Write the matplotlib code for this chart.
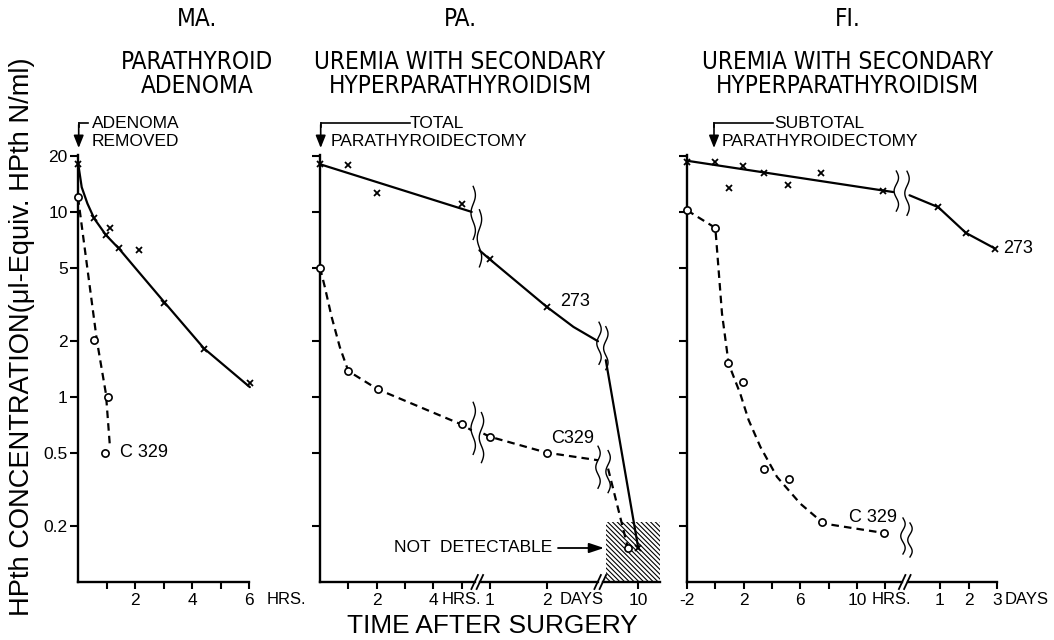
import numpy as np
import matplotlib
matplotlib.use("Agg")
import matplotlib.pyplot as plt
import matplotlib.transforms as mtransforms
from matplotlib import font_manager
from matplotlib.lines import Line2D
from matplotlib.patches import Rectangle
from matplotlib.ticker import NullLocator

plt.rcParams['font.family'] = ['Liberation Sans', 'DejaVu Sans']
plt.rcParams['hatch.linewidth'] = 0.8
plt.rcParams['hatch.color'] = 'black'

# ---------------- data (HPth, ul-Equiv. HPth N/ml) ----------------
# MA. parathyroid adenoma - hours after surgery
ma_273_hrs = [0, 0.57, 0.98, 1.12, 1.45, 2.15, 3.03, 4.42, 6.03]
ma_273_val = [18.2, 9.3, 7.5, 8.2, 6.4, 6.2, 3.2, 1.82, 1.19]
ma_273_fit_hrs = [0, 0.13, 0.33, 0.57, 0.98, 1.45, 2.0, 3.03, 4.42, 6.03]
ma_273_fit_val = [18.5, 13.6, 11.1, 9.2, 7.5, 6.3, 5.0, 3.25, 1.83, 1.13]
ma_c329_hrs = [0, 0.57, 1.06, 0.95]
ma_c329_val = [12.0, 2.04, 1.0, 0.5]
ma_c329_fit_hrs = [0, 0.66, 0.98, 1.12]
ma_c329_fit_val = [12.0, 2.03, 1.04, 0.54]

# PA. uremia, total parathyroidectomy
pa_273_hrs = [0, 1.0, 2.0, 5.0]
pa_273_hrs_val = [18.1, 17.9, 12.6, 11.0]
pa_273_fit_hrs = [0, 5.36]
pa_273_fit_hrs_val = [18.1, 10.0]
pa_273_days = [1.0, 2.0]
pa_273_days_val = [5.55, 3.07]
pa_273_fit_days = [0.82, 1.0, 2.0, 2.47, 2.9]
pa_273_fit_days_val = [6.2, 5.55, 3.07, 2.39, 2.0]
pa_273_late_days = [10.0]
pa_273_late_val = [0.152]
pa_273_fit_late_days = [9.43, 10.0]
pa_273_fit_late_val = [1.58, 0.152]

pa_c329_hrs = [0, 1.0, 2.04, 5.0]
pa_c329_hrs_val = [5.0, 1.38, 1.10, 0.71]
pa_c329_fit_hrs = [0, 0.17, 0.41, 0.70, 1.0, 2.04, 5.0, 5.36]
pa_c329_fit_hrs_val = [5.0, 3.93, 2.71, 1.86, 1.38, 1.10, 0.71, 0.66]
pa_c329_days = [1.0, 2.0]
pa_c329_days_val = [0.61, 0.50]
pa_c329_fit_days = [0.89, 1.0, 2.0, 2.9]
pa_c329_fit_days_val = [0.634, 0.61, 0.50, 0.455]
pa_c329_late_days = [9.82]
pa_c329_late_val = [0.152]
pa_c329_fit_late_days = [9.47, 9.82]
pa_c329_fit_late_val = [0.41, 0.152]

# detection limit region
undetectable_from_day = 9.43
undetectable_limit = 0.21

# FI. uremia, subtotal parathyroidectomy
fi_273_hrs = [-2, 0, 0.94, 1.95, 3.46, 5.13, 7.46, 11.83]
fi_273_hrs_val = [18.5, 18.5, 13.5, 17.7, 16.2, 13.9, 16.3, 13.0]
fi_273_fit_hrs = [-2, 12.56]
fi_273_fit_hrs_val = [18.9, 12.8]
fi_273_days = [0.94, 1.91, 2.93]
fi_273_days_val = [10.6, 7.7, 6.34]
fi_273_fit_days = [-0.07, 0.94, 1.91, 2.93]
fi_273_fit_days_val = [12.3, 10.6, 7.7, 6.34]

fi_c329_hrs = [-2, 0, 0.9, 1.95, 3.46, 5.17, 7.52, 11.9]
fi_c329_hrs_val = [10.2, 8.2, 1.53, 1.21, 0.41, 0.36, 0.211, 0.184]
fi_c329_fit_hrs = [-2, 0, 0.47, 0.94, 1.76, 2.35, 3.18, 4.35, 6.0, 7.64, 11.9]
fi_c329_fit_val = [10.2, 8.2, 2.82, 1.51, 1.04, 0.75, 0.537, 0.37, 0.265, 0.207, 0.184]

y_ticks = [0.2, 0.5, 1, 2, 5, 10, 20]
y_tick_labels = ['0.2', '0.5', '1', '2', '5', '10', '20']

# ---------------- layout helpers ----------------
W, H = 1054, 640
fig = plt.figure(figsize=(W / 100, H / 100), dpi=100)
fig.patch.set_facecolor('white')
renderer = fig.canvas.get_renderer()

Y_TOP, Y_BOT = 155, 582
TICK_FS = 12.5


def find_condensed_font():
    """Pick an installed narrow sans face for the panel headings, if any."""
    best = None
    for f in font_manager.fontManager.ttflist:
        name = f.name.lower()
        fname = f.fname.lower()
        narrow = ('narrow' in name or 'condensed' in name or 'narrow' in fname
                  or 'condensed' in fname or f.stretch in ('condensed', 'semi-condensed'))
        if not narrow or f.style != 'normal':
            continue
        if f.weight not in (400, 'normal', 'regular'):
            continue
        if 'mono' in name or 'serif' in name.replace('sans', ''):
            continue
        score = 0 if 'sans' in name else 1
        if best is None or score < best[0]:
            best = (score, f.fname)
    if best is None:
        return None
    return font_manager.FontProperties(fname=best[1])


def make_axes(x0, x1, ref_px, ref_val, px_per_unit, ticks, labels,
              left_spine=False, ylabels=False):
    ax = fig.add_axes([x0 / W, 1 - Y_BOT / H, (x1 - x0) / W, (Y_BOT - Y_TOP) / H])
    ax.set_yscale('log')
    ax.set_ylim(0.1, 20.3)
    ax.set_xlim(ref_val + (x0 - ref_px) / px_per_unit,
                ref_val + (x1 - ref_px) / px_per_unit)
    ax.patch.set_alpha(0)
    for side in ('top', 'right'):
        ax.spines[side].set_visible(False)
    ax.spines['left'].set_visible(left_spine)
    for side in ('left', 'bottom'):
        ax.spines[side].set_linewidth(1.7)
        ax.spines[side].set_capstyle('projecting')
    ax.xaxis.set_minor_locator(NullLocator())
    ax.set_xticks(ticks)
    ax.set_xticklabels(labels)
    ax.tick_params(axis='x', direction='out', length=5, width=1.5,
                   labelsize=TICK_FS, pad=3)
    if left_spine:
        ax.set_yticks(y_ticks)
        ax.set_yticklabels(y_tick_labels if ylabels else [])
        ax.yaxis.set_minor_locator(NullLocator())
        ax.tick_params(axis='y', direction='out', length=6, width=1.5,
                       labelsize=TICK_FS, pad=1.5)
    else:
        ax.set_yticks([])
        ax.yaxis.set_minor_locator(NullLocator())
        ax.tick_params(axis='y', left=False, labelleft=False)
    return ax


LINE = dict(color='black', lw=1.6, clip_on=False, zorder=3,
            solid_capstyle='round', solid_joinstyle='round')
DASH = dict(color='black', lw=1.6, clip_on=False, zorder=3, dashes=(3.4, 2.3))
XMK = dict(ls='none', marker='x', ms=5, mew=1.3, color='black',
           clip_on=False, zorder=4)
OMK = dict(ls='none', marker='o', ms=5.2, mew=1.2, mfc='white', mec='black',
           clip_on=False, zorder=4)


def wiggle(ax, x, y, dx=0.0, dy=0.0, length=48, amp=2.2):
    s = np.linspace(0, 1, 90)
    xs = dx + amp * np.sin(2 * np.pi * 1.5 * s)
    ys = dy + (s - 0.5) * length
    tr = mtransforms.IdentityTransform() + \
        mtransforms.ScaledTranslation(x, y, ax.transData)
    ax.add_line(Line2D(xs, ys, transform=tr, color='black', lw=1.0,
                       clip_on=False, zorder=5))


def axis_break(xc):
    for off in (-2.6, 2.6):
        fig.add_artist(Line2D([(xc + off - 3.5) / W, (xc + off + 3.0) / W],
                              [1 - 589 / H, 1 - 575 / H],
                              transform=fig.transFigure, color='black', lw=1.3))


def unit_label(ax, x, text, dx):
    ax.annotate(text, xy=(x, 0), xycoords=('data', 'axes fraction'),
                xytext=(dx, -18), textcoords='offset pixels',
                ha='left', va='center', fontsize=12, annotation_clip=False)


def ftext(x, y, s, **kw):
    kw.setdefault('ha', 'center')
    kw.setdefault('va', 'center')
    return fig.text(x / W, 1 - y / H, s, **kw)


def surgery_arrow(x, x_end, lines):
    y_top, y_tip = 122.7, 148
    fig.add_artist(Line2D([x / W, x_end / W], [1 - y_top / H] * 2,
                          transform=fig.transFigure, color='black', lw=1.2))
    fig.add_artist(Line2D([x / W, x / W], [1 - y_top / H, 1 - (y_top + 4) / H],
                          transform=fig.transFigure, color='black', lw=1.2))
    ax1.annotate('', xy=(x, H - y_tip), xycoords='figure pixels',
                 xytext=(x, H - y_top - 2), textcoords='figure pixels',
                 arrowprops=dict(arrowstyle='-|>,head_length=0.75,head_width=0.3',
                                 color='black', lw=1.2, shrinkA=0, shrinkB=0),
                 annotation_clip=False)
    for s, tx, ty in lines:
        ftext(tx, ty, s, ha='left', fontsize=12.5)


# ---------------- panel MA. ----------------
ax1 = make_axes(78, 249, 78, 0, 28.5, [1, 2, 3, 4, 5, 6],
                ['', '2', '', '4', '', '6'], left_spine=True, ylabels=True)
ax1.plot(ma_273_fit_hrs, ma_273_fit_val, **LINE)
ax1.plot(ma_273_hrs, ma_273_val, **XMK)
ax1.plot(ma_c329_fit_hrs, ma_c329_fit_val, **DASH)
ax1.plot(ma_c329_hrs, ma_c329_val, **OMK)
ax1.annotate('273', xy=(ma_273_hrs[-1], ma_273_val[-1]), xytext=(13, 0),
             textcoords='offset pixels', ha='left', va='center', fontsize=13)
ax1.annotate('C 329', xy=(ma_c329_hrs[-1], ma_c329_val[-1]), xytext=(15, 0),
             textcoords='offset pixels', ha='left', va='center', fontsize=13)
unit_label(ax1, 6, 'HRS.', 18)

# ---------------- panel PA. ----------------
ax2a = make_axes(320, 475, 320, 0, 28.3, [1, 2, 3, 4, 5],
                 ['', '2', '', '4', ''], left_spine=True)
ax2b = make_axes(480, 598, 489.7, 1, 57, [1, 2], ['1', '2'])
ax2c = make_axes(603, 660, 638.3, 10, 57, [10], ['10'])
unit_label(ax2a, 4, 'HRS.', 8)
unit_label(ax2b, 2, 'DAYS', 13)

ax2a.plot(pa_273_fit_hrs, pa_273_fit_hrs_val, **LINE)
ax2a.plot(pa_273_hrs, pa_273_hrs_val, **XMK)
ax2b.plot(pa_273_fit_days, pa_273_fit_days_val, **LINE)
ax2b.plot(pa_273_days, pa_273_days_val, **XMK)
ax2c.plot(pa_273_fit_late_days, pa_273_fit_late_val, **LINE)
ax2c.plot(pa_273_late_days, pa_273_late_val, **XMK)

ax2a.plot(pa_c329_fit_hrs, pa_c329_fit_hrs_val, **DASH)
ax2a.plot(pa_c329_hrs, pa_c329_hrs_val, **OMK)
ax2b.plot(pa_c329_fit_days, pa_c329_fit_days_val, **DASH)
ax2b.plot(pa_c329_days, pa_c329_days_val, **OMK)
ax2c.plot(pa_c329_fit_late_days, pa_c329_fit_late_val, **DASH)
ax2c.plot(pa_c329_late_days, pa_c329_late_val, **OMK)

x_lo, x_hi = ax2c.get_xlim()
ax2c.add_patch(Rectangle((undetectable_from_day, 0.1), x_hi - undetectable_from_day,
                         undetectable_limit - 0.1, facecolor='white',
                         edgecolor='black', lw=0, hatch='\\' * 7, zorder=1,
                         clip_on=False))

ax2b.annotate('273', xy=(pa_273_days[-1], pa_273_days_val[-1]), xytext=(13, 5),
              textcoords='offset pixels', ha='left', va='center', fontsize=13)
ax2b.annotate('C329', xy=(pa_c329_days[-1], pa_c329_days_val[-1]), xytext=(4, 14),
              textcoords='offset pixels', ha='left', va='center', fontsize=13)

# curve breaks
wiggle(ax2a, pa_273_fit_hrs[-1], pa_273_fit_hrs_val[-1], 1.5, -1, 53)
wiggle(ax2b, pa_273_fit_days[0], pa_273_fit_days_val[0], 0, 12, 57)
wiggle(ax2a, pa_c329_fit_hrs[-1], pa_c329_fit_hrs_val[-1], 1.5, 2, 52)
wiggle(ax2b, pa_c329_fit_days[0], pa_c329_fit_days_val[0], -2, -4, 50)
wiggle(ax2b, pa_273_fit_days[-1], pa_273_fit_days_val[-1], 1, -2, 42)
wiggle(ax2c, pa_273_fit_late_days[0], pa_273_fit_late_val[0], 0, 12, 43)
wiggle(ax2b, pa_c329_fit_days[-1], pa_c329_fit_days_val[-1], 0, -7, 42)
wiggle(ax2c, pa_c329_fit_late_days[0], pa_c329_fit_late_val[0], 0, -3, 42)

axis_break(477.5)
axis_break(600.5)

ftext(394, 548, 'NOT  DETECTABLE', ha='left', fontsize=12.5)
ax2a.annotate('', xy=(604, H - 548), xycoords='figure pixels',
              xytext=(558, H - 548), textcoords='figure pixels',
              arrowprops=dict(arrowstyle='-|>,head_length=0.9,head_width=0.3',
                              color='black', lw=1.3, shrinkA=0, shrinkB=0),
              annotation_clip=False)

# ---------------- panel FI. ----------------
ax3a = make_axes(687, 902, 687, -2, 14.17, [-2, 0, 2, 4, 6, 8, 10, 12],
                 ['-2', '', '2', '', '6', '', '10', ''], left_spine=True)
ax3b = make_axes(908, 997, 940, 1, 28.5, [1, 2, 3], ['1', '2', '3'])
unit_label(ax3a, 10, 'HRS.', 15)
unit_label(ax3b, 3, 'DAYS', 8)

ax3a.plot(fi_273_fit_hrs, fi_273_fit_hrs_val, **LINE)
ax3a.plot(fi_273_hrs, fi_273_hrs_val, **XMK)
ax3b.plot(fi_273_fit_days, fi_273_fit_days_val, **LINE)
ax3b.plot(fi_273_days, fi_273_days_val, **XMK)
ax3a.plot(fi_c329_fit_hrs, fi_c329_fit_val, **DASH)
ax3a.plot(fi_c329_hrs, fi_c329_hrs_val, **OMK)

ax3b.annotate('273', xy=(fi_273_days[-1], fi_273_days_val[-1]), xytext=(8, 0),
              textcoords='offset pixels', ha='left', va='center', fontsize=13)
ax3a.annotate('C 329', xy=(fi_c329_hrs[-1], fi_c329_hrs_val[-1]), xytext=(-11, 15),
              textcoords='offset pixels', ha='center', va='center', fontsize=13)

wiggle(ax3a, fi_273_fit_hrs[-1], fi_273_fit_hrs_val[-1], 3, 1, 40)
wiggle(ax3b, fi_273_fit_days[0], fi_273_fit_days_val[0], -2.5, 2, 44)
wiggle(ax3a, fi_c329_hrs[-1], fi_c329_hrs_val[-1], 19, -3, 36)
wiggle(ax3a, fi_c329_hrs[-1], fi_c329_hrs_val[-1], 26, -7, 34)

axis_break(905)

# ---------------- surgery markers ----------------
surgery_arrow(78.7, 88, [('ADENOMA', 92, 124), ('REMOVED', 92, 141.7)])
surgery_arrow(320.7, 410, [('TOTAL', 410, 124), ('PARATHYROIDECTOMY', 331, 141.7)])
surgery_arrow(714, 773, [('SUBTOTAL', 774, 123), ('PARATHYROIDECTOMY', 722, 141)])

# ---------------- titles and axis labels ----------------
narrow_fp = find_condensed_font()
title_kw = {'fontproperties': narrow_fp} if narrow_fp is not None else {}
probe = ftext(460, 62, 'UREMIA WITH SECONDARY', fontsize=18, **title_kw)
bb = probe.get_window_extent(renderer)
target_w = 292 if narrow_fp is not None else 305
title_fs = 18 * target_w / bb.width
probe.set_fontsize(title_fs)

titles = [
    (197, ['MA.', 'PARATHYROID', 'ADENOMA']),
    (460, ['PA.', None, 'HYPERPARATHYROIDISM']),
    (848, ['FI.', 'UREMIA WITH SECONDARY', 'HYPERPARATHYROIDISM']),
]
for cx, (head, l1, l2) in titles:
    ftext(cx, 19, head, fontsize=title_fs, **title_kw)
    if l1:
        ftext(cx, 62, l1, fontsize=title_fs, **title_kw)
    ftext(cx, 86, l2, fontsize=title_fs, **title_kw)

ylab = ftext(22, 337, 'HPth CONCENTRATION(\u03bcl-Equiv. HPth N/ml)',
             rotation=90, fontsize=18)
h = ylab.get_window_extent(renderer).height
ylab.set_fontsize(18 * 558 / h)

xlab = ftext(492, 626, 'TIME AFTER SURGERY', fontsize=18)
w = xlab.get_window_extent(renderer).width
xlab.set_fontsize(18 * 290 / w)

fig.savefig('out.png', dpi=100, facecolor='white')
